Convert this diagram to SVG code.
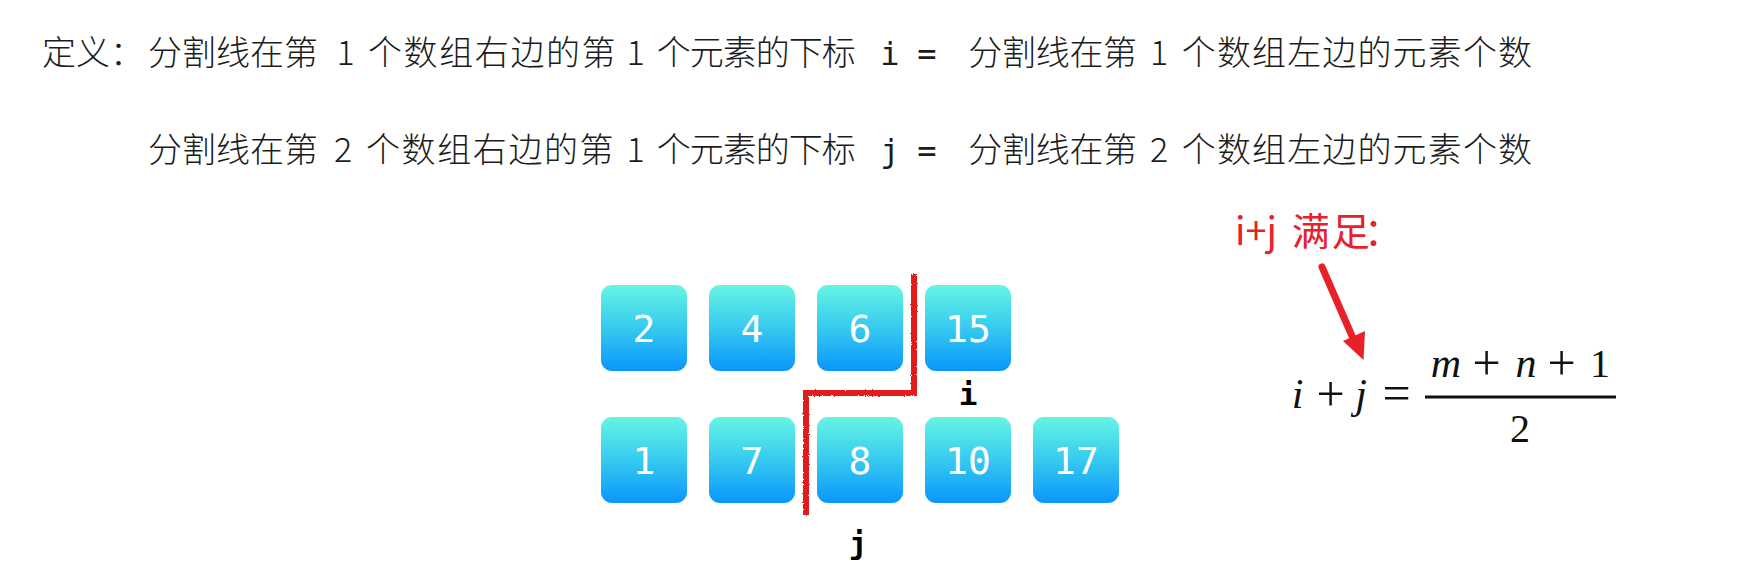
<svg xmlns="http://www.w3.org/2000/svg" width="1761" height="585" viewBox="0 0 1761 585">
  <defs>
    <linearGradient id="boxGrad" x1="0" y1="0" x2="0" y2="1">
      <stop offset="0" stop-color="#66f4e3"/>
      <stop offset="0.5" stop-color="#36caf0"/>
      <stop offset="1" stop-color="#0a96fb"/>
    </linearGradient>
    <filter id="rough" x="-20%" y="-5%" width="140%" height="110%">
      <feTurbulence type="fractalNoise" baseFrequency="0.9" numOctaves="1" seed="3" result="n"/>
      <feDisplacementMap in="SourceGraphic" in2="n" scale="3" xChannelSelector="R" yChannelSelector="G"/>
    </filter>
  </defs>
  <style>
    .cjk { font-family: "Noto Sans CJK SC", "Noto Sans", sans-serif; font-size: 34px; font-weight: 300; fill: #1c1c1c; }
    .mono { font-family: "DejaVu Sans Mono", "Liberation Mono", monospace; font-size: 32px; fill: #1c1c1c; }
    .box { fill: url(#boxGrad); }
    .num { font-family: "DejaVu Sans Mono", "Liberation Mono", monospace; font-size: 38px; fill: #ffffff; text-anchor: middle; }
    .lbl { font-family: "DejaVu Sans Mono", "Liberation Mono", monospace; font-size: 31px; font-weight: bold; fill: #000000; text-anchor: middle; }
    .red { font-family: "Noto Sans CJK SC", "Noto Sans", sans-serif; font-size: 38px; fill: #e8202a; }
    .math { font-family: "Liberation Serif", "Times New Roman", serif; font-size: 40px; fill: #111111; text-anchor: middle; }
    .it { font-style: italic; font-size: 42px; }
    .op { font-size: 50px; }
  </style>
  <rect width="1761" height="585" fill="#ffffff"/>

  <g id="definition">
    <g id="line1">
      <text class="cjk" x="42 76 110" y="65">定义：</text>
      <text class="cjk" x="148" y="65">分割线在第</text>
      <text class="cjk" x="345.5" y="65" text-anchor="middle">1</text>
      <text class="cjk" x="368 403.6 439.2 474.8 510.4 546 581.6" y="65">个数组右边的第</text>
      <text class="cjk" x="635.5" y="65" text-anchor="middle">1</text>
      <text class="cjk" x="656.7 689.7 722.7 755.7 788.7 821.7" y="65">个元素的下标</text>
      <text class="mono" x="890" y="65" text-anchor="middle">i</text>
      <text class="mono" x="927" y="65" text-anchor="middle">=</text>
      <text class="cjk" x="968.3 1002 1035.7 1069.4 1103.1" y="65">分割线在第</text>
      <text class="cjk" x="1159" y="65" text-anchor="middle">1</text>
      <text class="cjk" x="1181.7 1216.9 1252 1287.2 1322.3 1357.5 1392.6 1427.8 1462.9 1498" y="65">个数组左边的元素个数</text>
    </g>
    <g id="line2">
      <text class="cjk" x="148" y="162">分割线在第</text>
      <text class="cjk" x="343" y="162" text-anchor="middle">2</text>
      <text class="cjk" x="366 401.6 437.2 472.8 508.4 544 579.6" y="162">个数组右边的第</text>
      <text class="cjk" x="635.5" y="162" text-anchor="middle">1</text>
      <text class="cjk" x="656.7 689.7 722.7 755.7 788.7 821.7" y="162">个元素的下标</text>
      <text class="mono" x="890" y="162" text-anchor="middle">j</text>
      <text class="mono" x="927" y="162" text-anchor="middle">=</text>
      <text class="cjk" x="968.3 1002 1035.7 1069.4 1103.1" y="162">分割线在第</text>
      <text class="cjk" x="1159" y="162" text-anchor="middle">2</text>
      <text class="cjk" x="1181.7 1216.9 1252 1287.2 1322.3 1357.5 1392.6 1427.8 1462.9 1498" y="162">个数组左边的元素个数</text>
    </g>
  </g>

  <g id="array1">
    <g id="a1-0"><rect class="box" x="601" y="285" width="86" height="86" rx="11"/><text class="num" x="644" y="342">2</text></g>
    <g id="a1-1"><rect class="box" x="709" y="285" width="86" height="86" rx="11"/><text class="num" x="752" y="342">4</text></g>
    <g id="a1-2"><rect class="box" x="817" y="285" width="86" height="86" rx="11"/><text class="num" x="860" y="342">6</text></g>
    <g id="a1-3"><rect class="box" x="925" y="285" width="86" height="86" rx="11"/><text class="num" x="968" y="342">15</text></g>
  </g>
  <g id="array2">
    <g id="a2-0"><rect class="box" x="601" y="417" width="86" height="86" rx="11"/><text class="num" x="644" y="474">1</text></g>
    <g id="a2-1"><rect class="box" x="709" y="417" width="86" height="86" rx="11"/><text class="num" x="752" y="474">7</text></g>
    <g id="a2-2"><rect class="box" x="817" y="417" width="86" height="86" rx="11"/><text class="num" x="860" y="474">8</text></g>
    <g id="a2-3"><rect class="box" x="925" y="417" width="86" height="86" rx="11"/><text class="num" x="968" y="474">10</text></g>
    <g id="a2-4"><rect class="box" x="1033" y="417" width="86" height="86" rx="11"/><text class="num" x="1076" y="474">17</text></g>
  </g>

  <g id="label-i"><text class="lbl" x="968" y="405">i</text></g>
  <g id="label-j"><text class="lbl" x="858" y="554">j</text></g>

  <g id="connectors">
    <path id="split-line" d="M914,274 V393 H806 V515" fill="none" stroke="#e01e1a" stroke-width="6" stroke-linejoin="miter" filter="url(#rough)"/>
    <line id="note-arrow" x1="1322" y1="267" x2="1352" y2="336" stroke="#e8202a" stroke-width="7" stroke-linecap="round"/>
    <polygon points="1363.5,360 1343,341 1365,331" fill="#e8202a"/>
  </g>

  <g id="note">
    <text class="red" x="1235" y="245">i+j</text>
    <text class="red" x="1291.7 1331.7 1364" y="245">满足：</text>
  </g>

  <g id="formula">
    <text class="math it" x="1297.5" y="408">i</text>
    <text class="math op" x="1330.5" y="411">+</text>
    <text class="math it" x="1361" y="408">j</text>
    <text class="math op" x="1396.5" y="410">=</text>
    <line x1="1425" y1="397" x2="1616" y2="397" stroke="#111111" stroke-width="3"/>
    <text class="math it" x="1446" y="377">m</text>
    <text class="math op" x="1486.5" y="380">+</text>
    <text class="math it" x="1526" y="377">n</text>
    <text class="math op" x="1561.5" y="380">+</text>
    <text class="math" x="1600" y="377">1</text>
    <text class="math" x="1520" y="442">2</text>
  </g>
</svg>
